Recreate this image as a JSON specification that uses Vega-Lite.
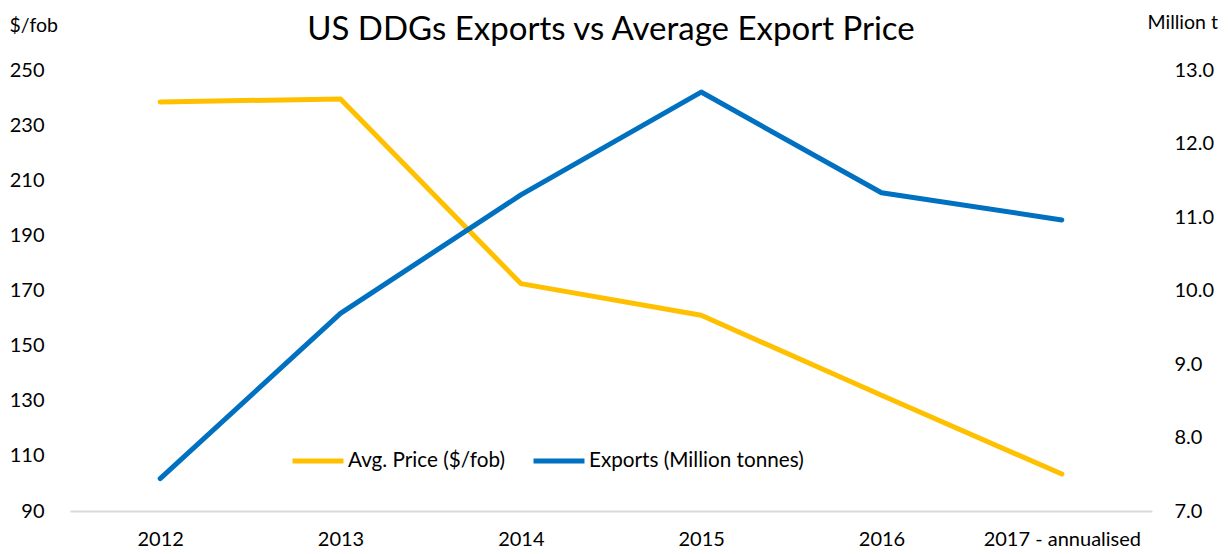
{
  "$schema": "https://vega.github.io/schema/vega-lite/v6.json",
  "width": 1082,
  "height": 441,
  "autosize": {"type": "none"},
  "padding": {"left": 70, "top": 70, "right": 76, "bottom": 43},
  "background": "white",
  "config": {
    "font": "Lato",
    "view": {"stroke": null},
    "axis": {"grid": false, "ticks": false, "labelFont": "Lato", "labelFontSize": 20, "labelColor": "#000000", "titleFont": "Lato", "titleFontSize": 19.5, "titleFontWeight": "normal", "titleColor": "#000000"}
  },
  "title": {"text": "US DDGs Exports vs Average Export Price", "fontSize": 33, "fontWeight": "normal", "font": "Lato", "color": "#000000", "anchor": "middle", "frame": "group", "offset": -35},
  "data": {
    "values": [
      {"year": "2012", "price": 238.4, "exports": 7.44},
      {"year": "2013", "price": 239.5, "exports": 9.69},
      {"year": "2014", "price": 172.5, "exports": 11.30},
      {"year": "2015", "price": 161.0, "exports": 12.70},
      {"year": "2016", "price": 132.0, "exports": 11.33},
      {"year": "2017 - annualised", "price": 103.4, "exports": 10.96}
    ]
  },
  "encoding": {
    "x": {"field": "year", "type": "nominal", "sort": null, "scale": {"type": "point", "padding": 0.5},
      "axis": {"title": null, "labelAngle": 0, "labelPadding": 18, "domainColor": "#d9d9d9", "domainWidth": 2}}
  },
  "layer": [
    {
      "mark": {"type": "line", "strokeWidth": 5, "strokeCap": "round", "strokeJoin": "round"},
      "encoding": {
        "y": {"field": "price", "type": "quantitative", "scale": {"domain": [90, 250], "nice": false, "zero": false},
          "axis": {"values": [90, 110, 130, 150, 170, 190, 210, 230, 250], "domain": false, "labelPadding": 26, "title": "$/fob", "titleAngle": 0, "titleAlign": "left", "titleBaseline": "middle", "titleX": -61, "titleY": -45}},
        "color": {"datum": "Avg. Price ($/fob)", "type": "nominal",
          "scale": {"domain": ["Avg. Price ($/fob)", "Exports (Million tonnes)"], "range": ["#FFC000", "#0070C0"]},
          "legend": {"title": null, "orient": "none", "direction": "horizontal", "legendX": 220, "legendY": 363,
            "symbolType": "stroke", "symbolSize": 2600, "symbolStrokeWidth": 5, "labelFont": "Lato", "labelFontSize": 20.7, "labelColor": "#000000", "labelOffset": 2, "columnPadding": 18, "labelLimit": 400}}
      }
    },
    {
      "mark": {"type": "line", "strokeWidth": 5, "strokeCap": "round", "strokeJoin": "round"},
      "encoding": {
        "y": {"field": "exports", "type": "quantitative", "scale": {"domain": [7, 13], "nice": false, "zero": false},
          "axis": {"orient": "right", "values": [7, 8, 9, 10, 11, 12, 13], "format": ".1f", "domain": false, "labelPadding": 22, "title": "Million t", "titleAngle": 0, "titleAlign": "left", "titleBaseline": "middle", "titleX": -5, "titleY": -48}},
        "color": {"datum": "Exports (Million tonnes)", "type": "nominal"}
      }
    }
  ],
  "resolve": {"scale": {"y": "independent"}}
}
